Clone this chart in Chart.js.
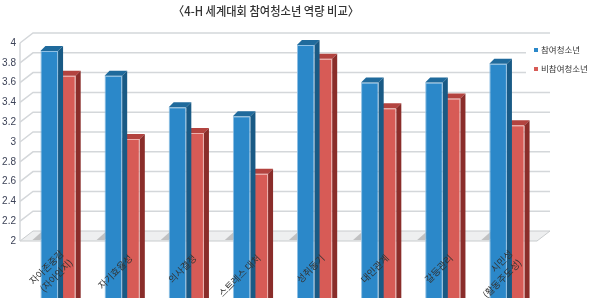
<!DOCTYPE html>
<html><head><meta charset="utf-8">
<script src="https://cdn.jsdelivr.net/npm/chart.js@4/dist/chart.umd.min.js"></script>
<style>html,body{margin:0;padding:0;background:#fff}#wrap{width:592px;height:298px;position:relative}</style>
</head><body><div id="wrap"><canvas id="c" width="592" height="298"></canvas></div>
<script>
const titleText = '〈4-H 세계대회 참여청소년 역량 비교〉';
const categories = [['자아존중감','(자아인지)'],'자기효율성','의사결정','스트레스 대처','성취동기','대인관계','갈등관리',['시민성','(활동주도성)']];
const seriesNames = ['참여청소년','비참여청소년'];
const participants = [3.92,3.67,3.35,3.26,3.98,3.60,3.60,3.79];
const nonParticipants = [3.67,3.03,3.09,2.68,3.84,3.34,3.44,3.17];
const yTicks = [2,2.2,2.4,2.6,2.8,3,3.2,3.4,3.6,3.8,4];

const palette = [
  {front:'#2b88c9', top:'#1f6a9c', side:'#195a85', border:'#8fc0e4'},
  {front:'#d75b56', top:'#b3433f', side:'#8a2d2a', border:'#eeb0ad'}
];
const DX=5, DY=5;     // bar depth
const WX=13, WY=10;   // wall depth

const threeD = {
  id:'threeD',
  beforeDatasetsDraw(chart){
    const {ctx, chartArea:a, scales:{y}} = chart;
    const fl=a.left-6, fr=a.right-2;
    ctx.save();
    // floor
    ctx.beginPath();
    ctx.moveTo(fl,a.bottom); ctx.lineTo(fr,a.bottom); ctx.lineTo(fr+WX,a.bottom-WY); ctx.lineTo(fl+WX,a.bottom-WY); ctx.closePath();
    ctx.fillStyle='#eeeff0'; ctx.fill();
    ctx.strokeStyle='#c9ccce'; ctx.lineWidth=1; ctx.stroke();
    // grid lines on back and side walls
    ctx.strokeStyle='#d4d7da'; ctx.lineWidth=1.5;
    yTicks.forEach((v,i)=>{
      if(i===0) return;
      const py=y.getPixelForValue(v);
      ctx.beginPath();
      ctx.moveTo(fl,py); ctx.lineTo(fl+WX,py-WY); ctx.lineTo(fr+WX,py-WY); ctx.stroke();
    });
    ctx.beginPath(); ctx.moveTo(fl,a.top); ctx.lineTo(fl,a.bottom); ctx.stroke();
    // legend background
    ctx.fillStyle='#fff'; ctx.fillRect(526,38,66,42);
    // floor shadows to the left of each bar group
    const m0=chart.getDatasetMeta(0);
    ctx.fillStyle='rgba(110,110,110,0.35)';
    m0.data.forEach(b=>{
      const l=b.x-b.width/2;
      ctx.beginPath();
      ctx.moveTo(l-8,a.bottom-1); ctx.lineTo(l,a.bottom-1); ctx.lineTo(l+WX-4,a.bottom-WY+1); ctx.lineTo(l+WX-12,a.bottom-WY+1); ctx.closePath(); ctx.fill();
    });
    ctx.restore();
  },
  afterDatasetDraw(chart,args){
    const {ctx}=chart; const c=palette[args.index];
    ctx.save();
    args.meta.data.forEach(b=>{
      const l=b.x-b.width/2, r=b.x+b.width/2, t=b.y, bs=b.base;
      ctx.fillStyle=c.top;
      ctx.beginPath(); ctx.moveTo(l,t); ctx.lineTo(r,t); ctx.lineTo(r+DX,t-DY); ctx.lineTo(l+DX,t-DY); ctx.closePath(); ctx.fill();
      ctx.fillStyle=c.side;
      ctx.beginPath(); ctx.moveTo(r,t); ctx.lineTo(r+DX,t-DY); ctx.lineTo(r+DX,bs-DY); ctx.lineTo(r,bs); ctx.closePath(); ctx.fill();
    });
    ctx.restore();
  },
  afterDraw(chart){
    const {ctx, chartArea:a, scales:{x}}=chart;
    // category labels, rotated 45 degrees, placed at the x scale's category positions
    ctx.save();
    ctx.font='9.5px "Noto Sans CJK KR"';
    ctx.fillStyle='#333';
    ctx.textAlign='right'; ctx.textBaseline='top';
    categories.forEach((lab,i)=>{
      const lines=Array.isArray(lab)?lab:[lab];
      const cx=x.getPixelForValue(i)+5, cy=a.bottom+12;
      lines.forEach((ln,k)=>{
        const off=(k-(lines.length-1)/2)*9;
        ctx.save();
        ctx.translate(cx+off, cy+off);
        ctx.rotate(-Math.PI/4);
        ctx.fillText(ln,0,0);
        ctx.restore();
      });
    });
    ctx.restore();
    // title
    ctx.save();
    ctx.font='500 12.5px "Noto Sans CJK KR"';
    ctx.fillStyle='#333';
    ctx.textAlign='center'; ctx.textBaseline='middle';
    const w=ctx.measureText(titleText).width;
    ctx.translate(266,11); ctx.scale(186/w,1);
    ctx.fillText(titleText,0,0);
    ctx.restore();
    // legend
    ctx.save();
    ctx.font='8.5px "Noto Sans CJK KR"';
    ctx.textBaseline='middle'; ctx.textAlign='left';
    seriesNames.forEach((n,i)=>{
      const yy=50+i*19;
      ctx.fillStyle=palette[i].front; ctx.fillRect(534,yy-2,4,4);
      ctx.fillStyle='#333'; ctx.fillText(n,541,yy);
    });
    ctx.restore();
  }
};

new Chart(document.getElementById('c'),{
  type:'bar',
  data:{
    labels:categories,
    datasets:[
      {label:seriesNames[0],data:participants,backgroundColor:palette[0].front,borderColor:palette[0].border,borderWidth:1,clip:false},
      {label:seriesNames[1],data:nonParticipants,backgroundColor:palette[1].front,borderColor:palette[1].border,borderWidth:1,clip:false}
    ]
  },
  options:{
    responsive:false,animation:false,
    layout:{padding:{top:43,right:53,bottom:0,left:0}},
    datasets:{bar:{barPercentage:1,categoryPercentage:0.55}},
    plugins:{legend:{display:false},title:{display:false},tooltip:{enabled:false}},
    scales:{
      x:{
        grid:{display:false,drawTicks:false},border:{display:false},
        ticks:{display:false},
        afterFit(s){s.height=57;s.paddingLeft=0;s.paddingRight=0;}
      },
      y:{
        min:2,max:4,
        grid:{display:false,drawTicks:false},border:{display:false},
        ticks:{stepSize:0.2,padding:10,color:'#3c4257',font:{family:'"Liberation Sans"',size:10},
          callback:v=>String(Number(v.toFixed(1)))},
        afterFit(s){s.width=26;s.paddingTop=0;s.paddingBottom=0;}
      }
    }
  },
  plugins:[threeD]
});
</script></body></html>
